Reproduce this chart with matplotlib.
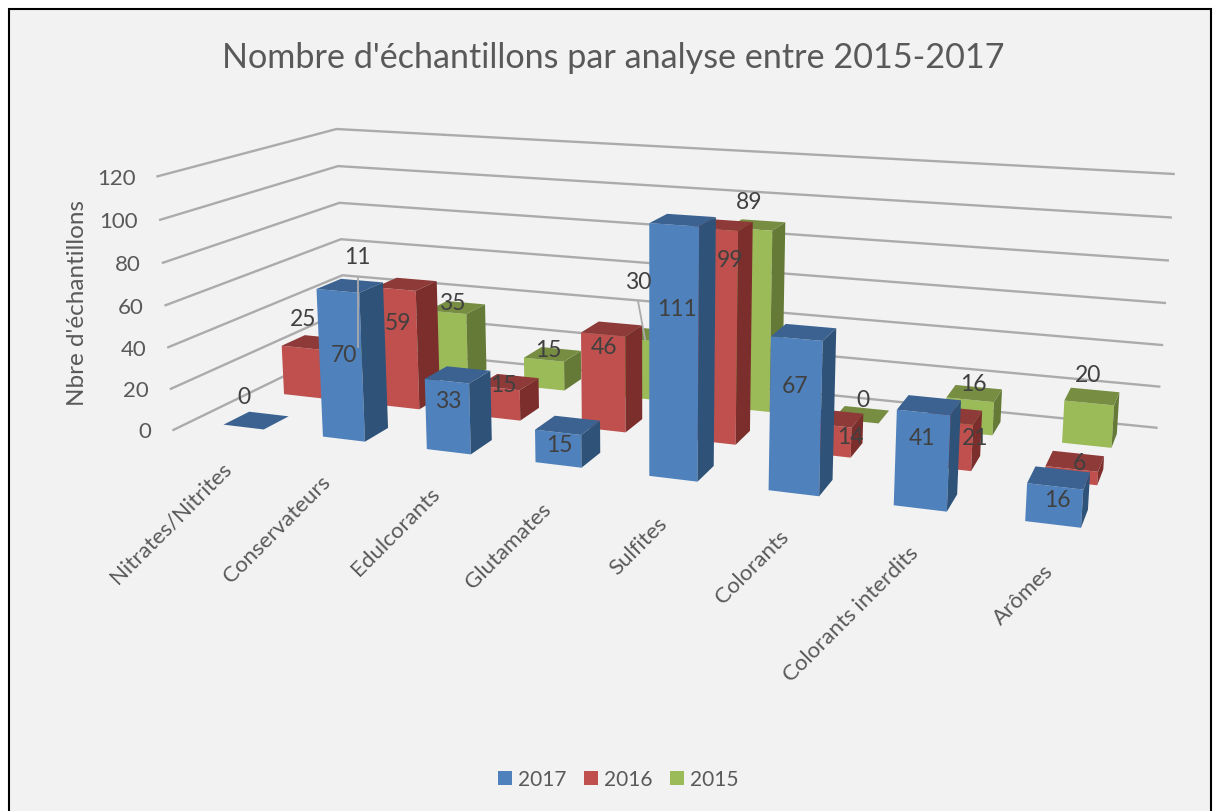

import numpy as np
import matplotlib
matplotlib.use("Agg")
import matplotlib.pyplot as plt
import matplotlib.transforms as mtransforms
from matplotlib.lines import Line2D
from matplotlib.patches import Rectangle
from mpl_toolkits.mplot3d import Axes3D  # noqa
from mpl_toolkits.mplot3d.art3d import Line3DCollection

plt.rcParams['font.family'] = ['Lato', 'DejaVu Sans']

# ---------- data ----------
categories = ["Nitrates/Nitrites", "Conservateurs", "Edulcorants", "Glutamates",
              "Sulfites", "Colorants", "Colorants interdits", "Arômes"]
years = ["2017", "2016", "2015"]
values_2017 = [0, 70, 33, 15, 111, 67, 41, 16]
values_2016 = [25, 59, 15, 46, 99, 14, 21, 6]
values_2015 = [11, 35, 15, 30, 89, 0, 16, 20]
y_ticks = [0, 20, 40, 60, 80, 100, 120]

# ---------- style ----------
W, H_PX = 1217, 812
BG = "#F2F2F2"
TXT = "#595959"
LBL = "#404040"
GRID = "#ABABAB"
FRONT = ["#4F81BD", "#C0504D", "#9BBB59"]
SIDE = ["#2F5279", "#7B2E2B", "#667A37"]
TOP = ["#3B6291", "#8E3A38", "#768D42"]
BAR = 0.41                      # bar width / depth relative to the category pitch
GAP = (1 - BAR) / 2
CLEAR = (0, 0, 0, 0)

# Camera: homography (category, series, value) -> image pixels
CAM = np.array([
    [9.25100429e+01, 7.69433274e+01, -1.75019812e-01, 2.23480743e+02],
    [2.56417101e+00, -7.69678565e+00, -2.14150815e+00, 4.25639605e+02],
    [-2.14776499e-02, 5.77037111e-02, -2.69529416e-04, 1.0],
])


def project(u, v, h):
    q = CAM @ np.array([u, v, h, 1.0])
    return q[:2] / q[2]


fig = plt.figure(figsize=(W / 100, H_PX / 100), dpi=100, facecolor="white")
PX = mtransforms.Affine2D().scale(1, -1).translate(0, H_PX)

fig.add_artist(Rectangle((9, 10), 1202, 815, transform=PX, facecolor=BG,
                         edgecolor="black", linewidth=1.5, zorder=-1))

ax = fig.add_axes([0, 0, 1, 1], projection="3d")
ax.set_axis_off()
ax.patch.set_visible(False)
ax.computed_zorder = False
ax.apply_aspect = lambda position=None: None
ax.set_position([0, 0, 1, 1])


def get_proj():
    to_data = (PX + ax.transData.inverted()).get_matrix()
    xyw = to_data @ CAM
    return np.array([xyw[0], xyw[1], [0, 0, 0, 1.0], xyw[2]])


ax.get_proj = get_proj

# walls
u0, u1 = -GAP - 0.03, 7 + BAR + GAP + 0.02
v0, v1 = -GAP, 2 + BAR + GAP
segments = []
for t in y_ticks:
    segments.append([(u0, v0, t), (u0, v1, t), (u1, v1, t)])
    x, y = project(u0, v0, t)
    fig.text(x - 21, y + 1, str(t), transform=PX, ha="right", va="center",
             fontsize=16, color=TXT)
ax.add_collection3d(Line3DCollection(segments, colors=GRID, linewidths=1.7,
                                     joinstyle="miter", zorder=1))

# bars, back to front
series = [values_2017, values_2016, values_2015]
z = 2
for s in [2, 1, 0]:
    for i, val in enumerate(series[s]):
        # faces: -z, +z, -y, +y, -x, +x
        cols = [CLEAR, TOP[s], FRONT[s], CLEAR, CLEAR, SIDE[s]]
        ax.bar3d(i, s, 0, BAR, BAR, val, color=cols, shade=False,
                 edgecolor="none", linewidth=0, zorder=z)
        z += 1

# leader lines of the hidden labels
for xs, ys in [((358, 358), (278, 348)), ((638, 645), (302, 340))]:
    fig.add_artist(Line2D(xs, ys, transform=PX, color=GRID, lw=1.3, zorder=2))

# data labels (centre pixel of each label)
label_px = {
    0: [(244, 398), (344, 356), (448, 402), (559, 446), (677, 310), (795, 387), (922, 439), (1057, 501)],
    1: [(303, 320), (398, 324), (503, 386), (604, 348), (730, 261), (850, 438), (975, 439), (1079, 464)],
    2: [(357, 258), (452, 304), (548, 351), (638, 283), (749, 203), (863, 401), (973, 385), (1088, 376)],
}
for s in [2, 1, 0]:
    for val, (x, y) in zip(series[s], label_px[s]):
        fig.text(x, y, str(val), transform=PX, ha="center", va="center",
                 fontsize=16.5, color=LBL)

# category labels
cat_end = [(228, 466), (327, 479), (437, 491), (548, 507),
           (664, 521), (786, 534), (915, 550), (1050, 568)]
for name, (x, y) in zip(categories, cat_end):
    fig.text(x, y, name, transform=PX, ha="right", va="center", rotation=45,
             rotation_mode="anchor", fontsize=16, color=TXT)

fig.text(613, 58, "Nombre d'échantillons par analyse entre 2015-2017", transform=PX,
         ha="center", va="center", fontsize=24.6, color=TXT)
fig.text(77, 303, "Nbre d'échantillons", transform=PX, ha="center", va="center",
         rotation=90, fontsize=17.5, color=TXT)

handles = [Rectangle((0, 0), 1, 1, facecolor=c, edgecolor="none") for c in FRONT]
fig.legend(handles, years, loc="center", bbox_to_anchor=(618.5, 780), bbox_transform=PX,
           ncol=3, frameon=False, fontsize=15, labelcolor=TXT, handlelength=0.65,
           handleheight=0.65, handletextpad=0.3, columnspacing=0.85, borderpad=0)

fig.savefig("out.png", dpi=100, facecolor="white")
